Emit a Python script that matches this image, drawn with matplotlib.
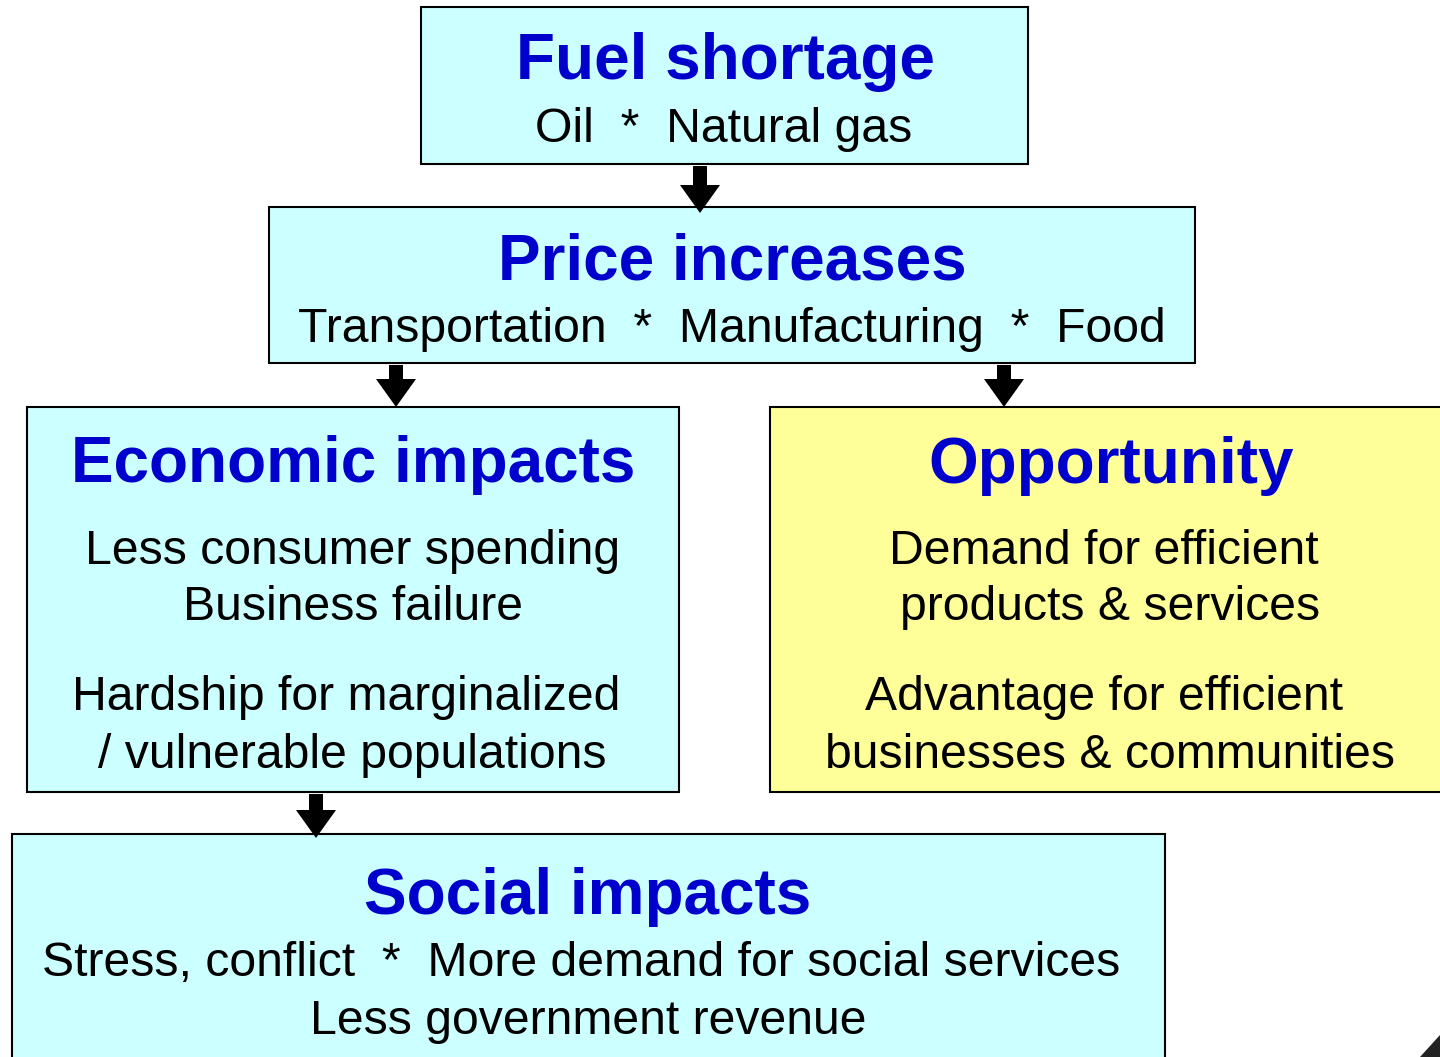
import matplotlib.pyplot as plt
from matplotlib.patches import Rectangle, Polygon

# ---------- Diagram content ---------- #

titles = ['Fuel shortage', 'Price increases', 'Economic impacts',
          'Opportunity', 'Social impacts']
body_lines = [
    ['Oil  *  Natural gas'],
    ['Transportation  *  Manufacturing  *  Food'],
    ['Less consumer spending', 'Business failure',
     'Hardship for marginalized', '/ vulnerable populations'],
    ['Demand for efficient', 'products & services',
     'Advantage for efficient', 'businesses & communities'],
    ['Stress, conflict  *  More demand for social services',
     'Less government revenue'],
]

# box extents in pixels (x0, y0, x1, y1), y grows downward
boxes = [(421, 7, 1028, 164), (269, 207, 1195, 363), (27, 407, 679, 792),
         (770, 407, 1445, 792), (12, 834, 1165, 1065)]
fills = ['#CCFFFF', '#CCFFFF', '#CCFFFF', '#FFFF99', '#CCFFFF']
title_y = [62, 262, 465, 466, 897]
title_x = [725, 732, 353, 1111, 588]
body_x = [[724], [732], [353, 353, 346, 352], [1104, 1110, 1104, 1110],
          [581, 588]]
body_y = [[130], [329], [551, 608, 698, 756], [551, 608, 698, 756],
          [964, 1022]]

# arrows: (x, top of shaft, tip)
arrows = [(700, 166, 213), (396, 365, 407), (1004, 365, 407), (316, 794, 838)]

plt.rcParams['font.family'] = ['Liberation Sans', 'DejaVu Sans']

fig = plt.figure(figsize=(14.4, 10.57), dpi=100)
ax = fig.add_axes([0, 0, 1, 1])
ax.set_xlim(0, 1440)
ax.set_ylim(1057, 0)
ax.axis('off')

for (x0, y0, x1, y1), fc in zip(boxes, fills):
    ax.add_patch(Rectangle((x0, y0), x1 - x0, y1 - y0, facecolor=fc,
                           edgecolor='black', linewidth=1.5, zorder=1))

for i, t in enumerate(titles):
    ax.text(title_x[i], title_y[i], t, ha='center', va='center',
            fontsize=46, fontweight='bold', color='#0000CC', zorder=3)
    for line, x, y in zip(body_lines[i], body_x[i], body_y[i]):
        ax.text(x, y, line, ha='center', va='center',
                fontsize=34.7, color='black', zorder=3)

# ---------- Arrows ---------- #
for x, top, tip in arrows:
    neck = tip - 28
    ax.add_patch(Rectangle((x - 7, top), 14, neck - top, facecolor='black',
                           edgecolor='none', zorder=4))
    ax.add_patch(Polygon([(x - 20, neck), (x + 20, neck), (x, tip)],
                         closed=True, facecolor='black', edgecolor='none',
                         zorder=4))

# small dark corner fragment at bottom right
ax.add_patch(Polygon([(1420, 1057), (1440, 1035), (1440, 1057)],
                     closed=True, facecolor='#222222', edgecolor='none'))

fig.savefig('out.png', dpi=100)
